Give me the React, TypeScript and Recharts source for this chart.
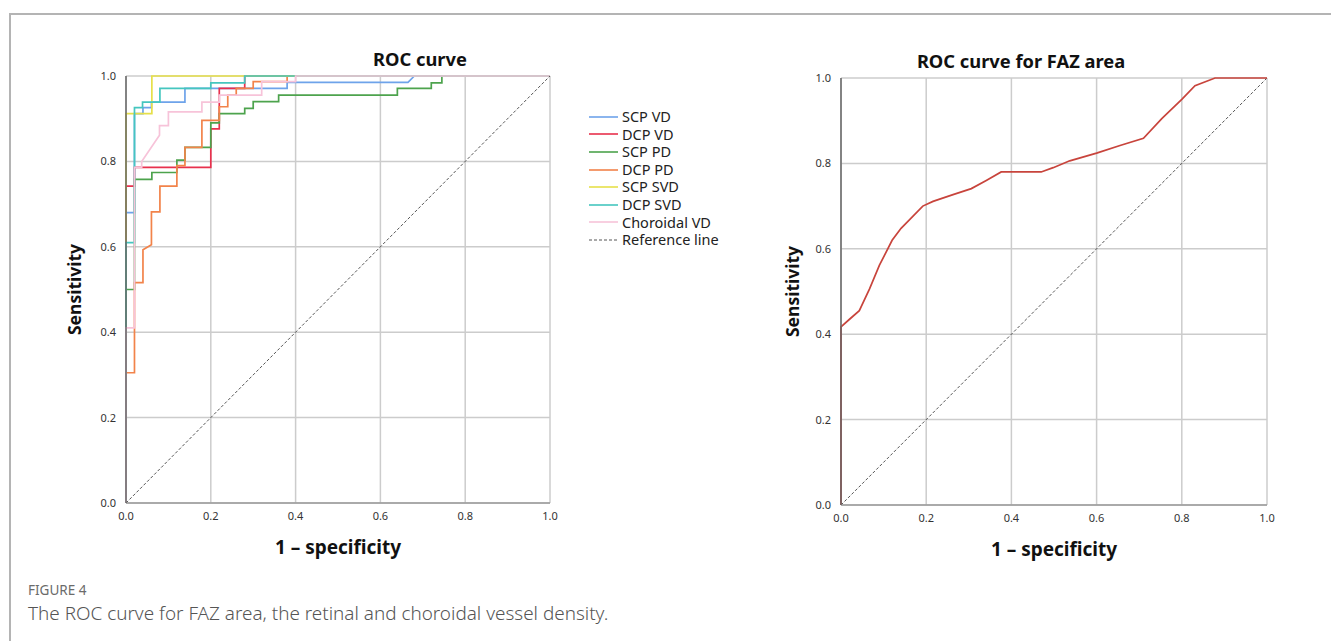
import React from "react";
import { CartesianGrid, Label, Line, LineChart, XAxis, YAxis } from "recharts";

type Pt = [number, number];

// ROC corner points [1 - specificity, sensitivity]
const scpVd: Pt[] = [
  [0, 0], [0, 0.68], [0.02, 0.68], [0.02, 0.912], [0.04, 0.912], [0.04, 0.926],
  [0.06, 0.926], [0.06, 0.939], [0.139, 0.939], [0.139, 0.971], [0.38, 0.971],
  [0.38, 0.985], [0.665, 0.985], [0.68, 1], [1, 1],
];
const dcpVd: Pt[] = [
  [0, 0], [0, 0.742], [0.02, 0.742], [0.02, 0.786], [0.2, 0.786], [0.2, 0.86],
  [0.2, 0.876], [0.22, 0.876], [0.22, 0.971], [0.28, 0.971], [0.28, 1], [1, 1],
];
const scpPd: Pt[] = [
  [0, 0], [0, 0.5], [0.02, 0.5], [0.02, 0.758], [0.061, 0.758], [0.061, 0.774],
  [0.12, 0.774], [0.12, 0.803], [0.139, 0.803], [0.139, 0.833], [0.2, 0.833],
  [0.2, 0.89], [0.22, 0.89], [0.22, 0.912], [0.28, 0.912], [0.28, 0.924],
  [0.3, 0.924], [0.3, 0.94], [0.36, 0.94], [0.36, 0.955], [0.64, 0.955],
  [0.64, 0.971], [0.72, 0.971], [0.72, 0.984], [0.745, 0.984], [0.745, 1], [1, 1],
];
const dcpPd: Pt[] = [
  [0, 0], [0, 0.305], [0.02, 0.305], [0.02, 0.516], [0.04, 0.516], [0.04, 0.593],
  [0.06, 0.605], [0.06, 0.682], [0.08, 0.682], [0.08, 0.742], [0.12, 0.742],
  [0.12, 0.79], [0.139, 0.79], [0.139, 0.833], [0.179, 0.833], [0.179, 0.896],
  [0.22, 0.896], [0.22, 0.928], [0.24, 0.928], [0.24, 0.955], [0.26, 0.955],
  [0.26, 0.971], [0.3, 0.971], [0.3, 0.987], [0.38, 0.987], [0.38, 1], [1, 1],
];
const scpSvd: Pt[] = [
  [0, 0], [0, 0.912], [0.061, 0.912], [0.061, 1], [1, 1],
];
const dcpSvd: Pt[] = [
  [0, 0], [0, 0.61], [0.02, 0.61], [0.02, 0.926], [0.039, 0.926], [0.039, 0.939],
  [0.08, 0.939], [0.08, 0.971], [0.2, 0.971], [0.2, 0.984], [0.28, 0.984],
  [0.28, 1], [1, 1],
];
const choroidalVd: Pt[] = [
  [0, 0], [0, 0.41], [0.02, 0.41], [0.02, 0.786], [0.037, 0.786], [0.037, 0.8],
  [0.079, 0.861], [0.079, 0.884], [0.1, 0.884], [0.1, 0.916], [0.179, 0.916],
  [0.179, 0.939], [0.22, 0.939], [0.22, 0.955], [0.32, 0.955], [0.32, 0.987],
  [0.4, 0.987], [0.4, 1], [1, 1],
];
const referenceLine: Pt[] = [[0, 0], [1, 1]];

const fazArea: Pt[] = [
  [0, 0], [0, 0.417], [0.02, 0.435], [0.043, 0.455], [0.067, 0.506], [0.09, 0.561],
  [0.12, 0.62], [0.141, 0.648], [0.192, 0.7], [0.216, 0.711], [0.263, 0.727],
  [0.306, 0.741], [0.341, 0.76], [0.376, 0.78], [0.47, 0.78], [0.498, 0.79],
  [0.537, 0.806], [0.6, 0.824], [0.655, 0.842], [0.71, 0.859], [0.753, 0.905],
  [0.8, 0.95], [0.831, 0.982], [0.878, 1], [1, 1],
];

const axisTicks = [0, 0.2, 0.4, 0.6, 0.8, 1];
const seriesNames = [
  "SCP VD", "DCP VD", "SCP PD", "DCP PD", "SCP SVD", "DCP SVD", "Choroidal VD", "Reference line",
];
const seriesData = [scpVd, dcpVd, scpPd, dcpPd, scpSvd, dcpSvd, choroidalVd, referenceLine];
const seriesColors = [
  "#6ea3ea", "#e8314d", "#4da34d", "#f2834a", "#e6e04a", "#45c6bf", "#f7c3d9", "#555555",
];

const toRows = (pts: Pt[]) => pts.map(([x, y]) => ({ x, y }));

const sans = "'Noto Sans', 'Open Sans', sans-serif";
const tickStyle = { fontSize: 11, fill: "#333", fontFamily: sans };

function RocFrame({
  width,
  margin,
  yWidth,
  children,
}: {
  width: number;
  margin: { top: number; right: number; left: number; bottom: number };
  yWidth: number;
  children: React.ReactNode;
}) {
  return (
    <LineChart width={width} height={560} margin={margin}>
      <CartesianGrid stroke="#cccccc" strokeWidth={1.5} />
      <XAxis
        dataKey="x"
        type="number"
        domain={[0, 1]}
        ticks={axisTicks}
        tickFormatter={(v: number) => v.toFixed(1)}
        tick={tickStyle}
        tickLine={false}
        tickMargin={3}
        axisLine={{ stroke: "#9a9a9a", strokeWidth: 1.5 }}
        height={60}
      >
        <Label
          value="1 – specificity"
          position="center"
          dy={14}
          style={{ fontSize: 19, fontWeight: 700, fill: "#111", fontFamily: sans }}
        />
      </XAxis>
      <YAxis
        type="number"
        domain={[0, 1]}
        ticks={axisTicks}
        tickFormatter={(v: number) => v.toFixed(1)}
        tick={tickStyle}
        tickLine={false}
        tickMargin={4}
        axisLine={{ stroke: "#666", strokeWidth: 1.5 }}
        width={yWidth}
      >
        <Label
          value="Sensitivity"
          angle={-90}
          position="center"
          dx={-8}
          style={{ fontSize: 17.5, fontWeight: 700, fill: "#111", fontFamily: sans, textAnchor: "middle" }}
        />
      </YAxis>
      {children}
    </LineChart>
  );
}

function LegendBox() {
  return (
    <div style={{ position: "absolute", left: 589, top: 108, fontFamily: sans, fontSize: 14.5, color: "#222" }}>
      {seriesNames.map((name, i) => (
        <div key={name} style={{ display: "flex", alignItems: "center", height: 17.6, lineHeight: "17.6px" }}>
          <svg width={30} height={4} style={{ marginRight: 3 }}>
            <line
              x1={0}
              y1={2}
              x2={29}
              y2={2}
              stroke={seriesColors[i]}
              strokeWidth={i === 7 ? 1 : 1.6}
              strokeDasharray={i === 7 ? "3 2" : undefined}
            />
          </svg>
          <span>{name}</span>
        </div>
      ))}
    </div>
  );
}

export default function App() {
  const title = {
    position: "absolute" as const,
    fontFamily: sans,
    fontWeight: 700,
    color: "#111",
    transform: "translateX(-50%)",
    whiteSpace: "nowrap" as const,
  };
  return (
    <div style={{ position: "absolute", left: 0, top: 0, width: 1331, height: 641, overflow: "hidden", background: "#fff" }}>
      <div style={{ position: "absolute", left: 9, top: 13, width: 1400, height: 700, borderLeft: "2px solid #b4b4b4", borderTop: "2px solid #b4b4b4" }} />

      <div style={{ ...title, left: 420, top: 46, fontSize: 18.3 }}>ROC curve</div>
      <div style={{ ...title, left: 1021, top: 48, fontSize: 18.3 }}>ROC curve for FAZ area</div>

      <div style={{ position: "absolute", left: 40, top: 30 }}>
        <RocFrame width={540} margin={{ top: 46, right: 30, left: 0, bottom: 27 }} yWidth={86}>
          {seriesData.map((pts, i) => (
            <Line
              key={seriesNames[i]}
              data={toRows(pts)}
              dataKey="y"
              name={seriesNames[i]}
              type="linear"
              stroke={seriesColors[i]}
              strokeWidth={i === 7 ? 1 : 1.7}
              strokeDasharray={i === 7 ? "3 2" : undefined}
              dot={false}
              activeDot={false}
              isAnimationActive={false}
            />
          ))}
        </RocFrame>
      </div>
      <LegendBox />

      <div style={{ position: "absolute", left: 760, top: 30 }}>
        <RocFrame width={540} margin={{ top: 48, right: 33, left: 0, bottom: 25 }} yWidth={81}>
          <Line
            data={toRows(referenceLine)}
            dataKey="y"
            name="Reference line"
            type="linear"
            stroke="#555555"
            strokeWidth={1}
            strokeDasharray="3 2"
            dot={false}
            activeDot={false}
            isAnimationActive={false}
          />
          <Line
            data={toRows(fazArea)}
            dataKey="y"
            name="FAZ area"
            type="linear"
            stroke="#c8443c"
            strokeWidth={1.7}
            dot={false}
            activeDot={false}
            isAnimationActive={false}
          />
        </RocFrame>
      </div>

      <div style={{ position: "absolute", left: 28, top: 581, fontFamily: sans, fontSize: 13.5, color: "#6b6b6b" }}>FIGURE 4</div>
      <div style={{ position: "absolute", left: 28, top: 600, fontFamily: sans, fontSize: 18.9, fontWeight: 300, color: "#555", whiteSpace: "nowrap" }}>
        The ROC curve for FAZ area, the retinal and choroidal vessel density.
      </div>
    </div>
  );
}
